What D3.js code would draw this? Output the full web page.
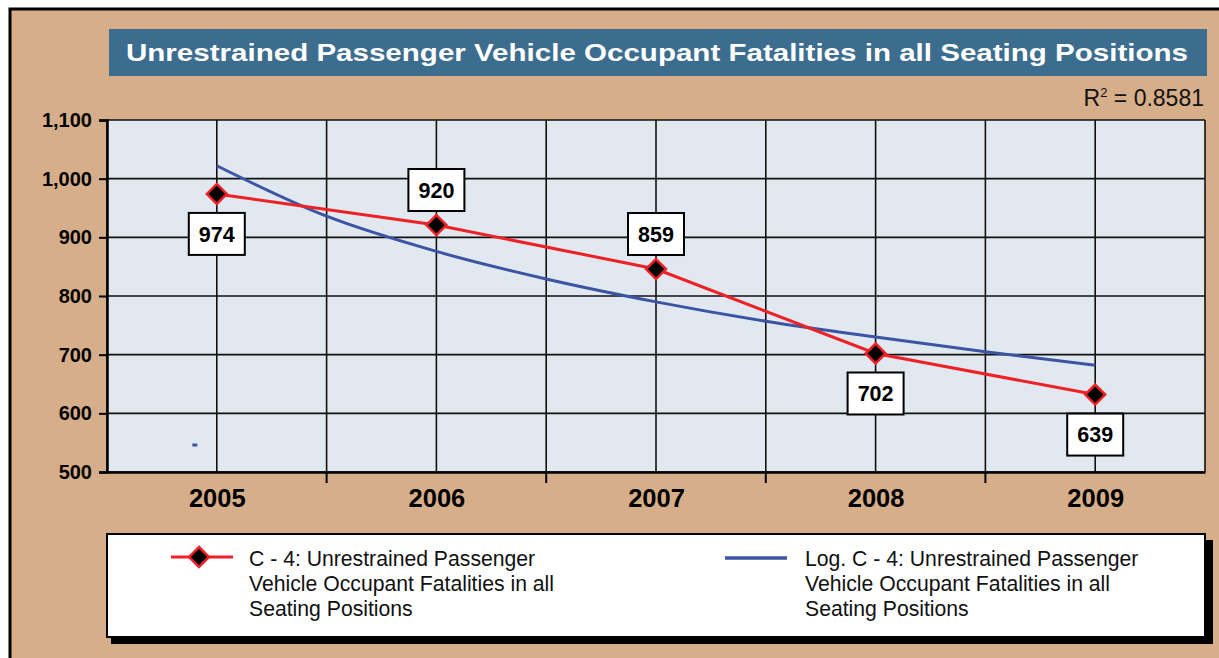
<!DOCTYPE html>
<html><head><meta charset="utf-8">
<script src="https://cdn.jsdelivr.net/npm/d3@7"></script>
<style>html,body{margin:0;padding:0;background:#fff;} svg{display:block;font-family:"Liberation Sans",Arial,sans-serif;}</style>
</head><body>
<svg id="c" width="1219" height="658"></svg>
<script>
const categories = ["2005","2006","2007","2008","2009"];
const seriesValues = [974, 921, 846, 702, 632];
const pointLabels = ["974","920","859","702","639"];
const labelSide = ["below","above","above","below","below"];
const trendX = [1, 1.5, 2, 2.5, 3, 3.5, 4, 4.5, 5];
const trendValues = [1022, 936, 876, 829, 790, 757, 730, 705, 682];
const strayPoint = [0.9, 546];
const yTicks = [500, 600, 700, 800, 900, 1000, 1100];
const titleText = "Unrestrained Passenger Vehicle Occupant Fatalities in all Seating Positions";
const rSquared = "0.8581";
const legendLines = [["C - 4: Unrestrained Passenger","Vehicle Occupant Fatalities in all","Seating Positions"],
                     ["Log. C - 4: Unrestrained Passenger","Vehicle Occupant Fatalities in all","Seating Positions"]];

const svg = d3.select("#c");
const TAN = "#d6ae89", PLOT = "#e1e8ef", RED = "#ee2126", BLUE = "#3c54a4", TITLEBG = "#3d6d8e";
const FONT = "Liberation Sans, Arial, sans-serif";

svg.append("rect").attr("x",10).attr("y",9).attr("width",1215).attr("height",655).attr("fill",TAN)
  .attr("stroke","#000").attr("stroke-width",3);

const L=107, R=1205, T=120, B=472;
const x = d3.scaleLinear().domain([0.5,5.5]).range([L,R]);
const y = d3.scaleLinear().domain([500,1100]).range([B,T]);

// title
svg.append("rect").attr("x",109).attr("y",29).attr("width",1098).attr("height",47).attr("fill",TITLEBG);
const tt = svg.append("text").attr("x",657).attr("y",61).attr("text-anchor","middle")
  .attr("fill","#fff").attr("font-weight","bold").attr("font-size",24.5).text(titleText);
const tl = tt.node().getComputedTextLength();
if (Math.abs(tl-1062) > 4) tt.attr("textLength",1062).attr("lengthAdjust","spacingAndGlyphs");

// R^2
const rt = svg.append("text").attr("x",1204).attr("y",106).attr("text-anchor","end").attr("font-size",23).attr("fill","#111");
rt.append("tspan").text("R");
rt.append("tspan").attr("font-size",13).attr("dy",-9).text("2");
rt.append("tspan").attr("dy",9).text(" = " + rSquared);

// plot bg
svg.append("rect").attr("x",L).attr("y",T).attr("width",R-L).attr("height",B-T).attr("fill",PLOT);

svg.append("g").selectAll("line").data(yTicks).join("line")
  .attr("x1",L).attr("x2",R).attr("y1",d=>y(d)).attr("y2",d=>y(d))
  .attr("stroke","#111").attr("stroke-width",1.6);
const vg = d3.range(0.5,5.51,0.5);
svg.append("g").selectAll("line").data(vg).join("line")
  .attr("x1",d=>x(d)).attr("x2",d=>x(d)).attr("y1",T).attr("y2",B)
  .attr("stroke","#111").attr("stroke-width",1.6);

// y axis
const yAxis = d3.axisLeft(y).tickValues(yTicks).tickSize(8).tickPadding(7).tickFormat(d3.format(","));
const ga = svg.append("g").attr("transform",`translate(${L},0)`).call(yAxis);
ga.attr("font-size",20).attr("font-family",FONT);
ga.select(".domain").attr("stroke","#000").attr("stroke-width",2.5);
ga.selectAll(".tick line").attr("stroke","#000").attr("stroke-width",2);
ga.selectAll(".tick text").attr("font-size",20).attr("font-weight","bold").attr("fill","#000");

// x axis
const xAxis = d3.axisBottom(x).tickValues([1,2,3,4,5]).tickSize(0).tickPadding(17).tickFormat(d=>categories[d-1]);
const gx = svg.append("g").attr("transform",`translate(0,${B})`).call(xAxis);
gx.attr("font-size",25.5).attr("font-family",FONT);
gx.select(".domain").attr("stroke","#000").attr("stroke-width",2.5);
gx.selectAll(".tick text").attr("font-size",25.5).attr("font-weight","bold").attr("fill","#000");
svg.append("g").selectAll("line").data(d3.range(1.5,5.01,1)).join("line")
  .attr("x1",d=>x(d)).attr("x2",d=>x(d)).attr("y1",B).attr("y2",B+11)
  .attr("stroke","#000").attr("stroke-width",2);

// trend line
svg.append("path").datum(trendX.map((d,i)=>[d,trendValues[i]]))
  .attr("d",d3.line().x(d=>x(d[0])).y(d=>y(d[1])).curve(d3.curveMonotoneX))
  .attr("fill","none").attr("stroke",BLUE).attr("stroke-width",3);
svg.append("rect").attr("x",x(strayPoint[0])-2.5).attr("y",y(strayPoint[1])-1.5).attr("width",5).attr("height",3).attr("fill",BLUE);

// series line
svg.append("path").datum(seriesValues)
  .attr("d",d3.line().x((d,i)=>x(i+1)).y(d=>y(d)))
  .attr("fill","none").attr("stroke",RED).attr("stroke-width",3);

const diamond = s => `M0,${-s}L${s},0L0,${s}L${-s},0Z`;
svg.append("g").selectAll("path").data(seriesValues).join("path")
  .attr("transform",(d,i)=>`translate(${x(i+1)},${y(d)})`)
  .attr("d",diamond(10)).attr("fill","#000").attr("stroke",RED).attr("stroke-width",2.5);

const lg = svg.append("g").selectAll("g").data(seriesValues).join("g")
  .attr("transform",(d,i)=>`translate(${x(i+1)},${y(d)+(labelSide[i]==="below"?40:-35)})`);
lg.append("rect").attr("x",-28).attr("y",-21).attr("width",56).attr("height",42)
  .attr("fill","#fff").attr("stroke","#000").attr("stroke-width",2);
lg.append("text").attr("text-anchor","middle").attr("dy","0.36em").attr("font-size",21.5).attr("font-weight","bold")
  .text((d,i)=>pointLabels[i]);

// legend
svg.append("rect").attr("x",111).attr("y",540).attr("width",1102).attr("height",104).attr("fill","#000");
svg.append("rect").attr("x",107).attr("y",534).attr("width",1098).attr("height",103).attr("fill","#fff")
  .attr("stroke","#000").attr("stroke-width",2);
svg.append("line").attr("x1",171).attr("x2",233).attr("y1",557).attr("y2",557).attr("stroke",RED).attr("stroke-width",3);
svg.append("path").attr("transform","translate(199,557)").attr("d",diamond(10)).attr("fill","#000").attr("stroke",RED).attr("stroke-width",2.5);
svg.append("line").attr("x1",725).attr("x2",787).attr("y1",558).attr("y2",558).attr("stroke",BLUE).attr("stroke-width",3.5);
[[249,legendLines[0]],[805,legendLines[1]]].forEach(([lx,lines])=>{
  svg.append("g").selectAll("text").data(lines).join("text")
    .attr("x",lx).attr("y",(d,i)=>566+i*25).attr("font-size",21.2).attr("fill","#111").text(d=>d);
});
</script>
</body></html>
